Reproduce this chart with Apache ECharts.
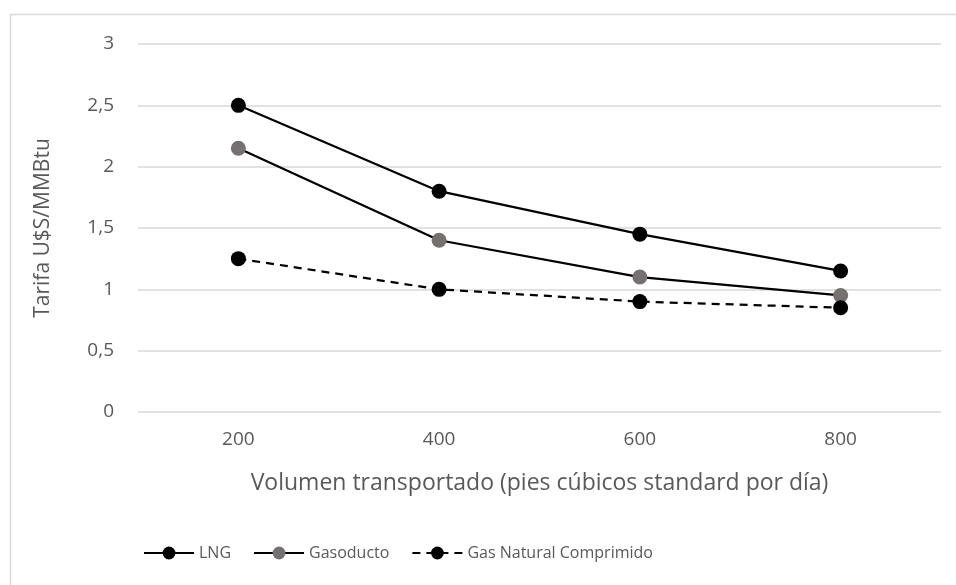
<!DOCTYPE html>
<html><head><meta charset="utf-8">
<script src="https://cdn.jsdelivr.net/npm/echarts@6/dist/echarts.min.js"></script>
<style>html,body{margin:0;padding:0;background:#fff}#c{width:956px;height:585px}</style>
</head><body><div id="c"></div>
<script>
const categories = ['200', '400', '600', '800'];
const lng = [2.5, 1.8, 1.45, 1.15];
const gasoducto = [2.15, 1.4, 1.1, 0.95];
const gnc = [1.25, 1.0, 0.9, 0.85];
const yTicks = [0, 0.5, 1, 1.5, 2, 2.5, 3];

const FONT = '"Open Sans", sans-serif';
const TXT = '#595959';
const chart = echarts.init(document.getElementById('c'), null, {renderer: 'canvas'});
chart.setOption({
  animation: false,
  backgroundColor: '#fff',
  graphic: [{type: 'rect', shape: {x: 10.5, y: 14.5, width: 960, height: 600}, style: {fill: 'none', stroke: '#d9d9d9', lineWidth: 1.5}, silent: true}],
  grid: {left: 138, right: 15, top: 44, bottom: 173, containLabel: false},
  legend: {
    top: 540, left: 138, itemGap: 22, itemWidth: 50, itemHeight: 16,
    textStyle: {fontFamily: FONT, fontSize: 16, color: TXT},
    data: ['LNG', 'Gasoducto', 'Gas Natural Comprimido']
  },
  xAxis: {
    type: 'category', data: categories, boundaryGap: true,
    name: 'Volumen transportado (pies cúbicos standard por día)',
    nameLocation: 'middle', nameGap: 60,
    nameTextStyle: {fontFamily: FONT, fontSize: 23, color: TXT},
    axisLine: {show: false}, axisTick: {show: false},
    axisLabel: {fontFamily: FONT, fontSize: 19, color: TXT, margin: 18}
  },
  yAxis: {
    type: 'value', min: 0, max: 3, interval: 0.5,
    name: 'Tarifa U$S/MMBtu', nameLocation: 'middle', nameGap: 84,
    nameTextStyle: {fontFamily: FONT, fontSize: 21, color: TXT},
    axisLine: {show: false}, axisTick: {show: false},
    splitLine: {lineStyle: {color: '#d9d9d9', width: 1.5}},
    axisLabel: {fontFamily: FONT, fontSize: 19, color: TXT, margin: 24,
      formatter: v => yTicks.includes(v) ? String(v).replace('.', ',') : ''}
  },
  series: [
    {name: 'LNG', type: 'line', data: lng, symbol: 'circle', symbolSize: 15,
      lineStyle: {color: '#000', width: 2.25}, itemStyle: {color: '#000'}},
    {name: 'Gasoducto', type: 'line', data: gasoducto, symbol: 'circle', symbolSize: 15,
      lineStyle: {color: '#000', width: 2.25}, itemStyle: {color: '#767171'}},
    {name: 'Gas Natural Comprimido', type: 'line', data: gnc, symbol: 'circle', symbolSize: 15,
      lineStyle: {color: '#000', width: 2.25, type: [8, 6]}, itemStyle: {color: '#000'}}
  ]
});
</script></body></html>
